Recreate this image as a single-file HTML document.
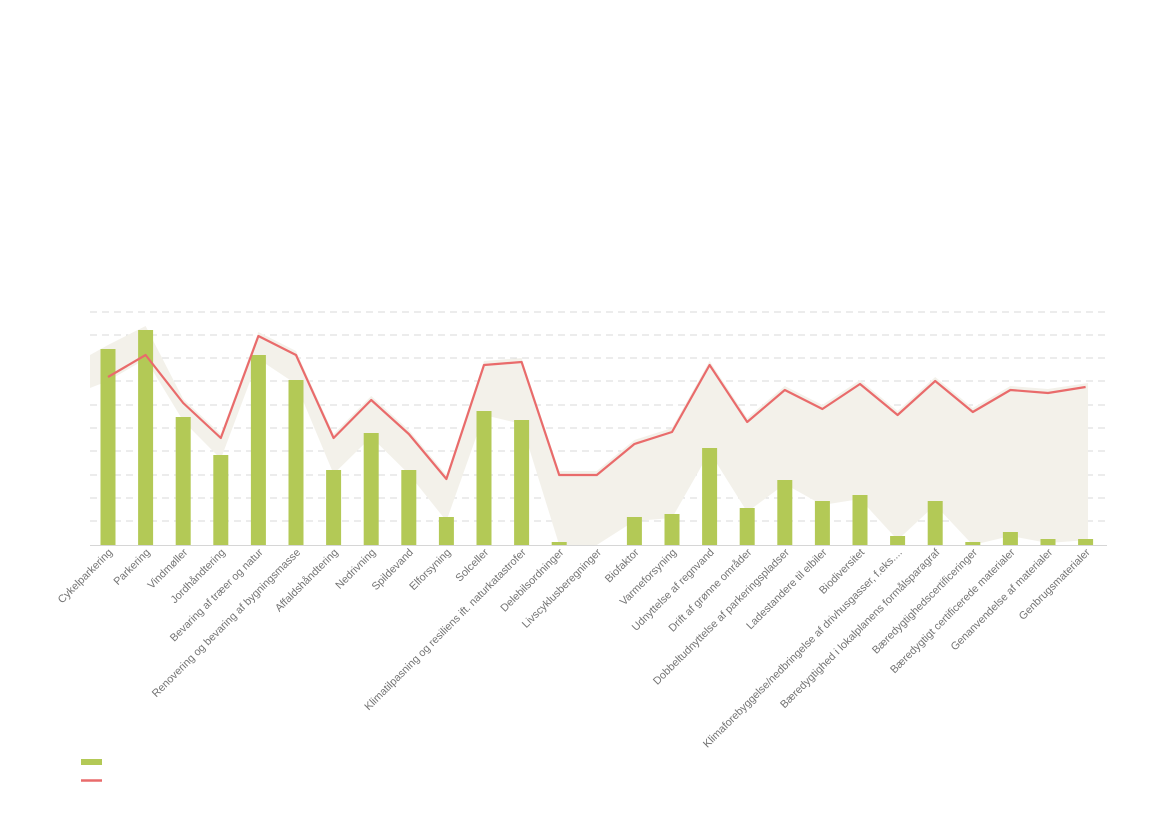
<!DOCTYPE html>
<html><head><meta charset="utf-8"><style>
html,body{margin:0;padding:0;background:#fff;}
svg{display:block;font-family:"Liberation Sans",sans-serif;}
text{font-size:10.8px;fill:#737373;}
</style></head><body>
<svg width="1169" height="827" viewBox="0 0 1169 827" xmlns="http://www.w3.org/2000/svg">
<g stroke="#d9d9d9" stroke-width="1" stroke-dasharray="7,5">
<line x1="90" x2="1107" y1="312" y2="312"/><line x1="90" x2="1107" y1="335" y2="335"/>
<line x1="90" x2="1107" y1="358" y2="358"/><line x1="90" x2="1107" y1="381" y2="381"/>
<line x1="90" x2="1107" y1="405" y2="405"/><line x1="90" x2="1107" y1="428" y2="428"/>
<line x1="90" x2="1107" y1="451" y2="451"/><line x1="90" x2="1107" y1="475" y2="475"/>
<line x1="90" x2="1107" y1="498" y2="498"/><line x1="90" x2="1107" y1="521" y2="521"/>
</g>
<polygon fill="#f3f1ea" points="90,355 108,345 145.6,326 183.2,399 220.8,434 258.4,332 296,351 333.6,434 371.2,396 408.8,430 446.4,475 484,361 521.6,358 559.2,471 596.8,471 634.4,440 672,428 709.6,361 747.2,418 784.8,386 822.4,405 860,380 897.6,411 935.2,377 972.8,408 1010.4,386 1048,389 1088,383 1088,540 1048,543 1010.4,536 972.8,545 935.2,505 897.6,540 860,499 822.4,505 784.8,484 747.2,512 709.6,452 672,518 634.4,521 596.8,545 559.2,545 521.6,424 484,415 446.4,521 408.8,474 371.2,437 333.6,474 296,384 258.4,359 220.8,459 183.2,421 145.6,359 108,381 90,388"/>
<line x1="90" x2="1107" y1="545.5" y2="545.5" stroke="#d6d6d6"/>
<g fill="#b3c956">
<rect x="100.5" y="349" width="15" height="196"/><rect x="138.1" y="330" width="15" height="215"/>
<rect x="175.7" y="417" width="15" height="128"/><rect x="213.3" y="455" width="15" height="90"/>
<rect x="250.9" y="355" width="15" height="190"/><rect x="288.5" y="380" width="15" height="165"/>
<rect x="326.1" y="470" width="15" height="75"/><rect x="363.7" y="433" width="15" height="112"/>
<rect x="401.3" y="470" width="15" height="75"/><rect x="438.9" y="517" width="15" height="28"/>
<rect x="476.5" y="411" width="15" height="134"/><rect x="514.1" y="420" width="15" height="125"/>
<rect x="551.7" y="542" width="15" height="3"/>
<rect x="626.9" y="517" width="15" height="28"/><rect x="664.5" y="514" width="15" height="31"/>
<rect x="702.1" y="448" width="15" height="97"/><rect x="739.7" y="508" width="15" height="37"/>
<rect x="777.3" y="480" width="15" height="65"/><rect x="814.9" y="501" width="15" height="44"/>
<rect x="852.5" y="495" width="15" height="50"/><rect x="890.1" y="536" width="15" height="9"/>
<rect x="927.7" y="501" width="15" height="44"/><rect x="965.3" y="542" width="15" height="3"/>
<rect x="1002.9" y="532" width="15" height="13"/><rect x="1040.5" y="539" width="15" height="6"/>
<rect x="1078.1" y="539" width="15" height="6"/>
</g>
<polyline fill="none" stroke="#e96b6b" stroke-width="2.2" stroke-linejoin="round" points="108,377 145.6,355 183.2,403 220.8,438 258.4,336 296,355 333.6,438 371.2,400 408.8,434 446.4,479 484,365 521.6,362 559.2,475 596.8,475 634.4,444 672,432 709.6,365 747.2,422 784.8,390 822.4,409 860,384 897.6,415 935.2,381 972.8,412 1010.4,390 1048,393 1085.6,387"/>
<g text-anchor="end">
<text transform="translate(113,553) rotate(-45)">Cykelparkering</text>
<text transform="translate(150.6,553) rotate(-45)">Parkering</text>
<text transform="translate(188.2,553) rotate(-45)">Vindmøller</text>
<text transform="translate(225.8,553) rotate(-45)">Jordhåndtering</text>
<text transform="translate(263.4,553) rotate(-45)">Bevaring af træer og natur</text>
<text transform="translate(301,553) rotate(-45)">Renovering og bevaring af bygningsmasse</text>
<text transform="translate(338.6,553) rotate(-45)">Affaldshåndtering</text>
<text transform="translate(376.2,553) rotate(-45)">Nedrivning</text>
<text transform="translate(413.8,553) rotate(-45)">Spildevand</text>
<text transform="translate(451.4,553) rotate(-45)">Elforsyning</text>
<text transform="translate(489,553) rotate(-45)">Solceller</text>
<text transform="translate(526.6,553) rotate(-45)">Klimatilpasning og resiliens ift. naturkatastrofer</text>
<text transform="translate(564.2,553) rotate(-45)">Delebilsordninger</text>
<text transform="translate(601.8,553) rotate(-45)">Livscyklusberegninger</text>
<text transform="translate(639.4,553) rotate(-45)">Biofaktor</text>
<text transform="translate(677,553) rotate(-45)">Varmeforsyning</text>
<text transform="translate(714.6,553) rotate(-45)">Udnyttelse af regnvand</text>
<text transform="translate(752.2,553) rotate(-45)">Drift af grønne områder</text>
<text transform="translate(789.8,553) rotate(-45)">Dobbeltudnyttelse af parkeringspladser</text>
<text transform="translate(827.4,553) rotate(-45)">Ladestandere til elbiler</text>
<text transform="translate(865,553) rotate(-45)">Biodiversitet</text>
<text transform="translate(902.6,553) rotate(-45)">Klimaforebyggelse/nedbringelse af drivhusgasser, f.eks....</text>
<text transform="translate(940.2,553) rotate(-45)">Bæredygtighed i lokalplanens formålsparagraf</text>
<text transform="translate(977.8,553) rotate(-45)">Bæredygtighedscertificeringer</text>
<text transform="translate(1015.4,553) rotate(-45)">Bæredygtigt certificerede materialer</text>
<text transform="translate(1053,553) rotate(-45)">Genanvendelse af materialer</text>
<text transform="translate(1090.6,553) rotate(-45)">Genbrugsmaterialer</text>
</g>
<rect x="81" y="759" width="21" height="6" fill="#b3c956"/>
<line x1="81" x2="102" y1="780.5" y2="780.5" stroke="#e96b6b" stroke-width="2.5"/>
</svg>
</body></html>
